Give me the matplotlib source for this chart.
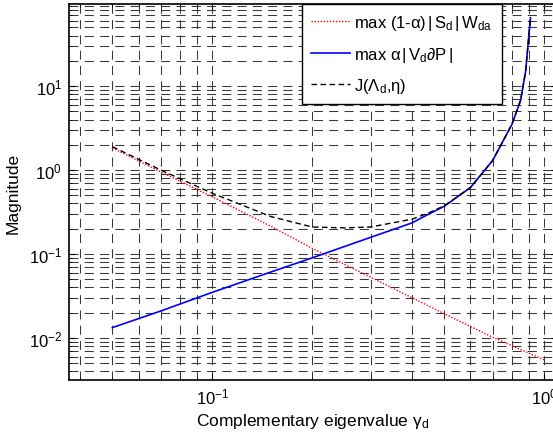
import numpy as np
import matplotlib
matplotlib.use("Agg")
import matplotlib.pyplot as plt

plt.rcParams['font.family'] = ['Liberation Sans', 'DejaVu Sans']
plt.rcParams['mathtext.fontset'] = 'custom'
plt.rcParams['mathtext.rm'] = 'Liberation Sans'
plt.rcParams['mathtext.it'] = 'Liberation Sans:italic'
plt.rcParams['lines.scale_dashes'] = False

# values
x_red = [0.05, 0.07, 0.1, 0.15, 0.2, 0.3, 0.5, 0.7, 1.0]
y_red = [1.84, 0.95, 0.48, 0.215, 0.117, 0.053, 0.0195, 0.0102, 0.0055]

x_blue = [0.05, 0.07, 0.1, 0.15, 0.2, 0.3, 0.4, 0.45, 0.5, 0.6, 0.7, 0.8, 0.85, 0.88, 0.91]
y_blue = [0.0133, 0.021, 0.035, 0.061, 0.09, 0.158, 0.235, 0.30, 0.37, 0.62, 1.3, 3.5, 6.8, 15.0, 65.0]

x_J = [0.05, 0.07, 0.1, 0.15, 0.2, 0.25, 0.3, 0.4, 0.45, 0.5, 0.6, 0.7, 0.8, 0.85, 0.88, 0.91]
y_J = [1.9, 1.0, 0.53, 0.28, 0.21, 0.205, 0.21, 0.26, 0.31, 0.375, 0.62, 1.3, 3.5, 6.8, 15.0, 65.0]

labels = [r'max (1-α)$\,|\,$S$_\mathrm{d}$$\,|\,$W$_\mathrm{da}$',
          r'max α$\,|\,$V$_\mathrm{d}$∂P$\,|$',
          r'J(Λ$_\mathrm{d}$,η)']

fig = plt.figure(figsize=(5.53, 4.39), dpi=100)
ax = fig.add_axes([69/553, 58/439, 488/553, 376/439])

ax.loglog(x_red, y_red, color='red', ls=(0, (1, 1.2)), lw=1.0, label=labels[0])
ax.loglog(x_blue, y_blue, color='blue', ls='-', lw=1.2, label=labels[1])
ax.loglog(x_J, y_J, color='black', ls=(0, (4, 2.5)), lw=1.0, label=labels[2])

ax.set_xlim(0.037, 1.094)
ax.set_ylim(10**-2.5, 95)

ax.grid(True, which='both', color='0.22', ls=(0, (6.5, 4.5)), lw=0.75)
ax.tick_params(which='both', direction='in', top=True, right=True, labelsize=12)
ax.tick_params(which='major', length=4, pad=5)
ax.tick_params(which='minor', length=2.5)
for s in ax.spines.values():
    s.set_linewidth(1.2)

ax.set_xlabel(r'Complementary eigenvalue γ$_\mathrm{d}$', fontsize=12.5, labelpad=3)
ax.set_ylabel('Magnitude', fontsize=12.5, labelpad=6)

leg = ax.legend(loc='upper left', bbox_to_anchor=(233/488, 1.0), fontsize=12,
                frameon=True, fancybox=False, framealpha=1, edgecolor='black',
                handlelength=2.3, labelspacing=0.7, borderpad=0.55,
                handletextpad=0.3, borderaxespad=0)
leg.get_frame().set_linewidth(1.0)

fig.savefig('out.png', dpi=100)
